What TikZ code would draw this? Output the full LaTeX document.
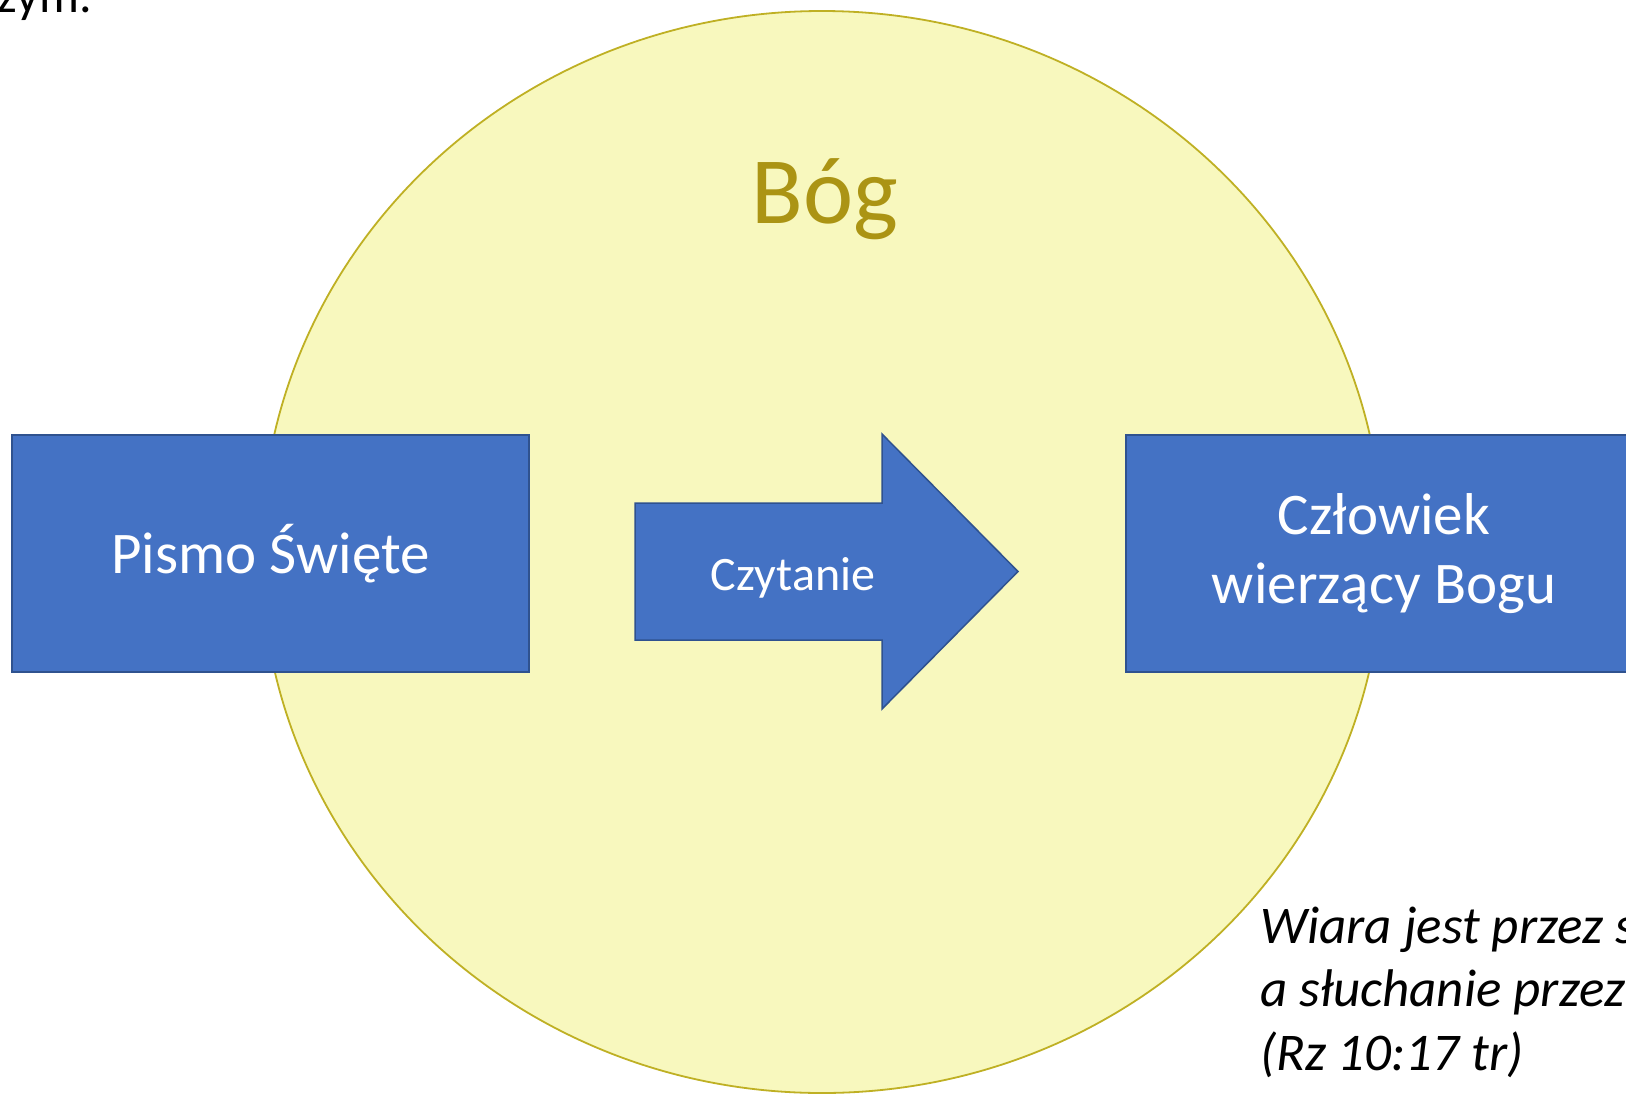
\documentclass[tikz,border=0pt]{standalone}
\usepackage{fontspec}
\setmainfont{Carlito}
\usepackage{xcolor}
\usetikzlibrary{shapes,arrows,positioning,calc}
\definecolor{godfill}{RGB}{248,248,190}
\definecolor{godline}{RGB}{191,176,36}
\definecolor{godtext}{RGB}{171,148,20}
\definecolor{boxblue}{RGB}{68,114,196}
\definecolor{boxline}{RGB}{47,82,143}

\begin{document}
\begin{tikzpicture}[
    x=1pt, y=-1pt,
    god/.style={ellipse, draw=godline, fill=godfill, line width=1.8pt, minimum width=1122pt, minimum height=1082pt},
    box/.style={rectangle, draw=boxline, fill=boxblue, line width=1.5pt, minimum width=517pt, minimum height=237pt, align=center, text=white, font=\fontsize{59}{69}\selectfont},
    arrowbox/.style={draw=boxline, fill=boxblue, line width=1.5pt, line join=miter},
    quote/.style={anchor=base west, align=left, inner sep=0pt, font=\itshape\fontsize{53}{63.5}\selectfont}
]
\useasboundingbox (0,0) rectangle (1626,1093);

% God
\node[god] (bog) at (822,552) {};
\node[anchor=base, text=godtext, font=\fontsize{95}{110}\selectfont] (boglabel) at (825,223) {Bóg};

% Scripture and believer
\node[box] (pismo) at (270.5,553.5) {Pismo Święte};
\node[box, minimum width=516pt] (czlowiek) at (1384,553.5) {Człowiek\\wierzący Bogu};

% Reading arrow
\draw[arrowbox] (635,503) -- (882,503) -- (882,434) -- (1018,571.5) -- (882,709) -- (882,640) -- (635,640) -- cycle;
\node[anchor=base, text=white, font=\fontsize{48}{58}\selectfont] (czytanie) at (793,590) {Czytanie};

% Quote and cut-off text
\node[quote] (cytat) at (1260,1070) {Wiara jest przez s\\a słuchanie przez\\(Rz 10:17 tr)};
\node[anchor=base west, inner sep=0pt, font=\fontsize{50}{60}\selectfont] (poprzedni) at (-3,12) {zym.};

\end{tikzpicture}
\end{document}
